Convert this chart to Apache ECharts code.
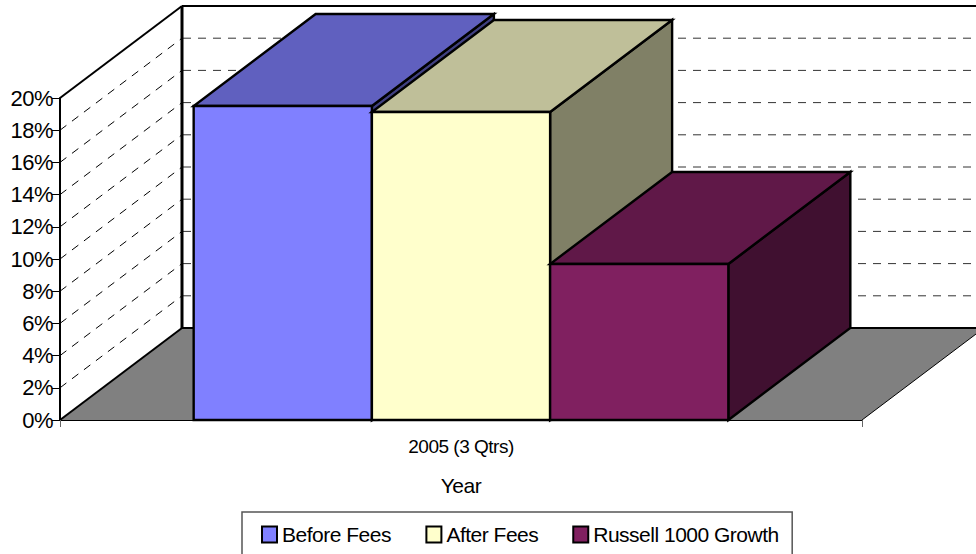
<!DOCTYPE html>
<html>
<head>
<meta charset="utf-8">
<style>
html, body { margin: 0; padding: 0; background: #fff; }
#chart { width: 976px; height: 554px; }
#chart text { letter-spacing: -0.5px; }
</style>
<script src="https://cdn.jsdelivr.net/npm/echarts@6/dist/echarts.min.js"></script>
</head>
<body>
<div id="chart"></div>
<script>
var categories = ['2005 (3 Qtrs)'];
var seriesNames = ['Before Fees', 'After Fees', 'Russell 1000 Growth'];
var beforeFees = [0.195];
var afterFees = [0.1913];
var russell = [0.0969];
var gridTicks = [0.02, 0.04, 0.06, 0.08, 0.10, 0.12, 0.14, 0.16, 0.18];

// front, top and side colours of each bar
var frontColors = ['#8080ff', '#ffffcc', '#802060'];
var topColors = ['#6060bf', '#bfbf99', '#601848'];
var sideColors = ['#404080', '#808066', '#401030'];

// how far the depth of the fake 3d box goes, in pixels
var depthX = 122;
var depthY = -92;

var chart = echarts.init(document.getElementById('chart'), null, { renderer: 'svg' });

function back(p) {
    return [p[0] + depthX, p[1] + depthY];
}

function renderWalls(params, api) {
    var band = api.size([1, 0])[0];
    var center = api.coord([0, 0]);
    var left = [center[0] - band / 2, center[1]];
    var right = [center[0] + band / 2, center[1]];
    var top = [left[0], api.coord([0, 0.2])[1]];
    var farEnd = [right[0] + depthX, 0];
    var children = [];
    var edge = { stroke: '#000', lineWidth: 2, fill: null };

    children.push({
        type: 'polygon',
        shape: { points: [left, back(left), back(right), right] },
        style: { fill: '#808080', stroke: null }
    });
    gridTicks.forEach(function (v) {
        var p = [left[0], api.coord([0, v])[1]];
        var b = back(p);
        children.push({
            type: 'line',
            shape: { x1: p[0], y1: p[1], x2: b[0], y2: b[1] },
            style: { stroke: '#000', lineWidth: 1, lineDash: [8, 7] }
        });
        children.push({
            type: 'line',
            shape: { x1: b[0] + 1, y1: b[1], x2: farEnd[0], y2: b[1] },
            style: { stroke: '#333', lineWidth: 1, lineDash: [8, 7] }
        });
    });
    var bl = back(left), tl = back(top), br = back(right);
    children.push({ type: 'line', shape: { x1: top[0], y1: top[1], x2: tl[0], y2: tl[1] }, style: edge });
    children.push({ type: 'line', shape: { x1: left[0], y1: left[1], x2: bl[0], y2: bl[1] }, style: edge });
    children.push({ type: 'line', shape: { x1: bl[0], y1: bl[1], x2: tl[0], y2: tl[1] }, style: { stroke: '#000', lineWidth: 3 } });
    children.push({ type: 'line', shape: { x1: tl[0], y1: tl[1], x2: farEnd[0], y2: tl[1] }, style: edge });
    children.push({ type: 'line', shape: { x1: bl[0], y1: bl[1], x2: br[0], y2: br[1] }, style: edge });
    children.push({ type: 'line', shape: { x1: right[0], y1: right[1], x2: br[0], y2: br[1] }, style: { stroke: '#000', lineWidth: 1 } });
    return { type: 'group', children: children };
}

function barRenderer(index) {
    return function (params, api) {
        var band = api.size([1, 0])[0];
        var width = band / 4.5; // 3 bars + 75% gap on each side
        var base = api.coord([api.value(0), 0]);
        var y = api.coord([api.value(0), api.value(1)])[1];
        var x0 = base[0] + (index - 1.5) * width;
        var x1 = x0 + width;
        var a = [x0, base[1]], b = [x1, base[1]], c = [x1, y], d = [x0, y];
        var edge = { stroke: '#000', lineWidth: 2.4, lineJoin: 'miter' };
        return {
            type: 'group',
            children: [
                { type: 'polygon', shape: { points: [b, c, back(c), back(b)] }, style: Object.assign({ fill: sideColors[index] }, edge) },
                { type: 'polygon', shape: { points: [d, c, back(c), back(d)] }, style: Object.assign({ fill: topColors[index] }, edge) },
                { type: 'polygon', shape: { points: [a, b, c, d] }, style: Object.assign({ fill: frontColors[index] }, edge) }
            ]
        };
    };
}

var barValues = [beforeFees, afterFees, russell];
var barSeries = barValues.map(function (values, i) {
    return {
        name: seriesNames[i],
        type: 'custom',
        z: 3 + i,
        clip: false,
        itemStyle: { color: frontColors[i] },
        encode: { x: 0, y: 1 },
        data: values.map(function (v, k) { return [k, v]; }),
        renderItem: barRenderer(i)
    };
});

chart.setOption({
    backgroundColor: '#fff',
    animation: false,
    textStyle: { fontFamily: 'Liberation Sans', color: '#000' },
    grid: { left: 60, right: 114, top: 98, bottom: 134 },
    legend: {
        left: 242,
        top: 512,
        padding: [12, 4, 13, 19],
        itemGap: 29,
        itemWidth: 15,
        itemHeight: 16,
        borderColor: '#555',
        borderWidth: 1.5,
        selectedMode: false,
        textStyle: { fontFamily: 'Liberation Sans', fontSize: 21, color: '#000' },
        data: seriesNames.map(function (name, i) {
            return { name: name, icon: 'rect', itemStyle: { color: frontColors[i], borderColor: '#000', borderWidth: 2 } };
        })
    },
    xAxis: {
        type: 'category',
        data: categories,
        z: 2,
        name: 'Year',
        nameLocation: 'middle',
        nameGap: 55,
        nameTextStyle: { fontFamily: 'Liberation Sans', fontSize: 21, color: '#000' },
        axisLine: { show: true, lineStyle: { color: '#000', width: 1 } },
        axisTick: { show: true, length: 7, lineStyle: { color: '#666', width: 1 } },
        axisLabel: { fontFamily: 'Liberation Sans', fontSize: 19, color: '#000', margin: 17 }
    },
    yAxis: {
        type: 'value',
        min: 0,
        max: 0.2,
        interval: 0.02,
        z: 2,
        splitLine: { show: false },
        axisLine: { show: true, lineStyle: { color: '#000', width: 2 } },
        axisTick: { show: true, length: 8, lineStyle: { color: '#000', width: 1 } },
        axisLabel: {
            fontFamily: 'Liberation Sans',
            fontSize: 22,
            color: '#000',
            margin: 7,
            formatter: function (v) { return Math.round(v * 100) + '%'; }
        }
    },
    series: [{
        type: 'custom',
        name: 'walls',
        z: 1,
        clip: false,
        silent: true,
        data: [[0, 0]],
        renderItem: renderWalls
    }].concat(barSeries)
});
</script>
</body>
</html>
